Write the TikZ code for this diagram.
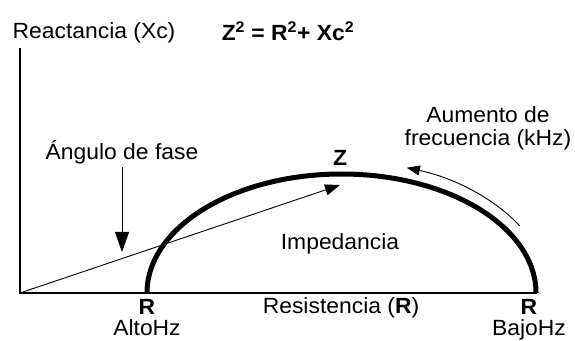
\documentclass[tikz,border=0pt]{standalone}
\usepackage{fontspec}
\setmainfont{Liberation Sans}[FakeStretch=1.04]
\usetikzlibrary{arrows.meta, positioning, calc}

\begin{document}
\begin{tikzpicture}[x=1pt, y=1pt, font=\fontsize{22}{23}\selectfont,
    eje/.style={line width=1.6pt},
    fina/.style={line width=0.9pt},
    negrita/.style={font=\fontsize{22}{23}\selectfont\bfseries},
    punta/.style={-{Triangle[length=15pt, width=11pt]}}]
        \useasboundingbox (0,0) rectangle (575,340);
        % ejes
        \coordinate (O) at (20,47);
        \coordinate (ytop) at (20,292);
        \coordinate (xend) at (537,47);
        \draw[eje] (ytop) -- (O) -- (xend);
        % semicirculo de impedancia
        \coordinate (centro) at (341.5,47);
        \coordinate (altoR) at (147,47);
        \draw[line width=5pt] (altoR) arc[start angle=180, end angle=0, x radius=194.5, y radius=119];
        % fasor Z
        \coordinate (ztip) at (340,155);
        \draw[fina, punta] (O) -- (ztip);
        % textos
        \node (react) at (94,307) {Reactancia (Xc)};
        \node[negrita] (ecuacion) at (288,309) {Z\textsuperscript{2} = R\textsuperscript{2}+ Xc\textsuperscript{2}};
        \node[negrita] (zlabel) at (340,182) {Z};
        \node (imped) at (340,96) {Impedancia};
        \node (resist) at (341,32) {Resistencia (\textbf{R})};
        \foreach \x/\hz/\nm in {147/AltoHz/alto, 529/BajoHz/bajo}
        {
            \node[negrita, anchor=base, inner sep=0.5pt] (r\nm) at (\x,26) {R};
            \node[anchor=base, inner sep=0.5pt] (hz\nm) at (\x,5) {\hz};
        }
        % angulo de fase
        \node (angulo) at (122,188) {Ángulo de fase};
        \coordinate (angtip) at (angulo.south |- 0,88);
        \draw[fina, -{Triangle[length=20pt, width=14pt]}] (angulo.south) -- (angtip);
        % aumento de frecuencia
        \node[align=center] (aumento) at (488,212) {Aumento de\\frecuencia (kHz)};
        \coordinate (fstart) at ($(centro)+(30.6:207 and 132)$);
        \draw[fina, -{Triangle[length=13pt, width=10pt]}] (fstart) arc[start angle=30.6, end angle=71.6, x radius=207, y radius=132];
    \end{tikzpicture}
\end{document}
